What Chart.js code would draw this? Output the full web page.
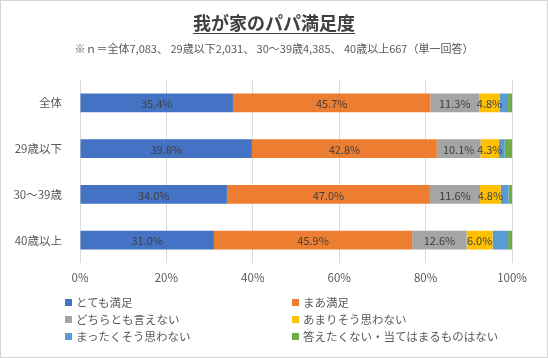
<!DOCTYPE html>
<html>
<head>
<meta charset="utf-8">
<script src="https://cdn.jsdelivr.net/npm/chart.js@4/dist/chart.umd.min.js"></script>
<style>
  body { margin: 0; background: #fff; font-family: "Noto Sans CJK JP", sans-serif; }
  #frame { position: relative; width: 546px; height: 356px; border: 1px solid #d4d4d4; overflow: hidden; }
  #title { position: absolute; top: 8px; left: 0; width: 546px; text-align: center; font-size: 18px; font-weight: bold; color: #404040; text-decoration: underline; text-underline-offset: 3px; }
  #sub { position: absolute; top: 39px; left: 0; width: 546px; text-align: center; font-size: 11px; color: #595959; }
  #chartBox { position: absolute; left: 0; top: 0; width: 546px; height: 356px; }
  .leg { position: absolute; font-size: 11.5px; color: #595959; white-space: nowrap; line-height: 14px; }
  .leg i { display: inline-block; width: 7px; height: 7px; margin-right: 4px; vertical-align: 1px; }
</style>
</head>
<body>
<div id="frame">
  <div id="chartBox"><canvas id="c"></canvas></div>
  <div id="title">我が家のパパ満足度</div>
  <div id="sub">※ｎ＝全体7,083、 29歳以下2,031、 30～39歳4,385、 40歳以上667（単一回答）</div>
  <div id="legend"></div>
</div>
<script>
// カテゴリ
var categories = ['全体', '29歳以下', '30～39歳', '40歳以上'];
// 回答 (%)
var totemo   = [35.4, 39.8, 34.0, 31.0];
var maa      = [45.7, 42.8, 47.0, 45.9];
var dochira  = [11.3, 10.1, 11.6, 12.6];
var amari    = [4.8, 4.3, 4.8, 6.0];
var mattaku  = [1.9, 1.3, 1.8, 3.6];
var kotaeta  = [0.9, 1.7, 0.8, 0.9];
var seriesNames = ['とても満足', 'まあ満足', 'どちらとも言えない', 'あまりそう思わない', 'まったくそう思わない', '答えたくない・当てはまるものはない'];
var xTicks = ['0%', '20%', '40%', '60%', '80%', '100%'];

var colors = ['#4472C4', '#ED7D31', '#A5A5A5', '#FFC000', '#5B9BD5', '#70AD47'];
var values = [totemo, maa, dochira, amari, mattaku, kotaeta];

var datasets = seriesNames.map(function (name, i) {
  return {
    label: name,
    data: values[i],
    backgroundColor: colors[i],
    borderWidth: 0,
    barPercentage: 1,
    categoryPercentage: 0.41,
    showLabel: i < 4
  };
});

// ラベル描画
var barLabels = {
  id: 'barLabels',
  afterDatasetsDraw: function (chart) {
    var ctx = chart.ctx;
    ctx.save();
    ctx.font = '11px "Noto Sans CJK JP", sans-serif';
    ctx.fillStyle = '#404040';
    ctx.textAlign = 'center';
    ctx.textBaseline = 'middle';
    chart.data.datasets.forEach(function (ds, di) {
      if (!ds.showLabel) return;
      chart.getDatasetMeta(di).data.forEach(function (bar, j) {
        var cx = (bar.x + bar.base) / 2;
        ctx.fillText(ds.data[j].toFixed(1) + '%', cx, bar.y + 1);
      });
    });
    ctx.restore();
  }
};

var ctx = document.getElementById('c').getContext('2d');
var chart = new Chart(ctx, {
  type: 'bar',
  data: { labels: categories, datasets: datasets },
  options: {
    indexAxis: 'y',
    responsive: true,
    maintainAspectRatio: false,
    animation: false,
    layout: { padding: { top: 79, right: 35, bottom: 64, left: 0 } },
    plugins: { legend: { display: false }, tooltip: { enabled: false } },
    scales: {
      x: {
        stacked: true,
        min: 0,
        max: 100,
        afterFit: function (s) { s.height = 30; },
        grid: { color: '#d9d9d9', drawTicks: false },
        border: { display: false },
        ticks: {
          stepSize: 20,
          padding: 8,
          color: '#595959',
          font: { size: 11.5, family: '"Noto Sans CJK JP", sans-serif' },
          callback: function (v) { return xTicks[v / 20]; }
        }
      },
      y: {
        stacked: true,
        afterFit: function (s) { s.width = 79; },
        grid: { display: false },
        border: { display: false },
        ticks: {
          padding: 10,
          color: '#595959',
          font: { size: 11.5, family: '"Noto Sans CJK JP", sans-serif' }
        }
      }
    }
  },
  plugins: [barLabels]
});

// 凡例
var legend = document.getElementById('legend');
var legPos = [[64, 294], [291, 294], [64, 311], [291, 311], [64, 328], [291, 328]];
chart.data.datasets.forEach(function (ds, i) {
  var d = document.createElement('div');
  d.className = 'leg';
  d.style.left = legPos[i][0] + 'px';
  d.style.top = legPos[i][1] + 'px';
  d.innerHTML = '<i style="background:' + ds.backgroundColor + '"></i>' + ds.label;
  legend.appendChild(d);
});
</script>
</body>
</html>
